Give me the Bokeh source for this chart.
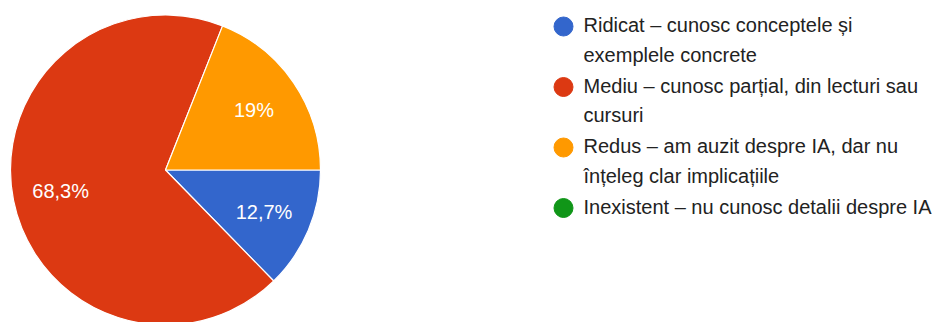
import math
from bokeh.plotting import figure
from bokeh.models import ColumnDataSource, Range1d
from bokeh.core.properties import value
from bokeh.embed import file_html
from bokeh.resources import INLINE

# ---- data ----
categories = [
    "Ridicat – cunosc conceptele și\nexemplele concrete",
    "Mediu – cunosc parțial, din lecturi sau\ncursuri",
    "Redus – am auzit despre IA, dar nu\nînțeleg clar implicațiile",
    "Inexistent – nu cunosc detalii despre IA",
]
shares = [12.7, 68.3, 19.0, 0.0]
pct_labels = ["12,7%", "68,3%", "19%", ""]
colors = ["#3366cc", "#dc3912", "#ff9900", "#109618"]

W, H = 946, 322
CX, CY, R = 165, H - 169.5, 155
LABEL_R = 0.69 * R
FONT = "Liberation Sans"

# slices go clockwise starting at 3 o'clock
starts, ends, lx, ly = [], [], [], []
acc = 0.0
for s in shares:
    a0 = -acc / 100 * 2 * math.pi
    a1 = -(acc + s) / 100 * 2 * math.pi
    starts.append(a1)
    ends.append(a0)
    mid = (a0 + a1) / 2
    lx.append(CX + LABEL_R * math.cos(mid))
    ly.append(CY + LABEL_R * math.sin(mid))
    acc += s

pie = ColumnDataSource(dict(start=starts, end=ends, color=colors, lx=lx, ly=ly, txt=pct_labels))

p = figure(width=W, height=H, output_backend="svg", toolbar_location=None,
           x_range=Range1d(0, W), y_range=Range1d(0, H), min_border=0)
p.axis.visible = False
p.grid.visible = False
p.outline_line_color = None
p.background_fill_color = "white"
p.border_fill_color = "white"

nz = [i for i, s in enumerate(shares) if s > 0]
pie_nz = ColumnDataSource(dict((k, [v[i] for i in nz]) for k, v in pie.data.items()))
p.wedge(x=CX, y=CY, radius=R, start_angle="start", end_angle="end", fill_color="color",
        line_color="white", line_width=1.2, source=pie_nz)
p.text(x="lx", y="ly", text="txt", source=pie_nz, text_color="white", text_font=value(FONT),
       text_font_size="20px", text_align="center", text_baseline="middle")

# legend
LX, LY0, STEP = 563, H - 26, 60.5
leg = ColumnDataSource(dict(
    x=[LX] * len(categories),
    y=[LY0 - i * STEP for i in range(len(categories))],
    tx=[LX + 20] * len(categories),
    ty=[LY0 - i * STEP + 12.5 for i in range(len(categories))],
    label=categories, color=colors))
p.scatter(x="x", y="y", size=19, marker="circle", fill_color="color", line_color="color", source=leg)
p.text(x="tx", y="ty", text="label", source=leg, text_color="#222222", text_font=value(FONT),
       text_font_size="20px", text_align="left", text_baseline="top", text_line_height=1.35)

open("out.html", "w").write(file_html(p, INLINE))
